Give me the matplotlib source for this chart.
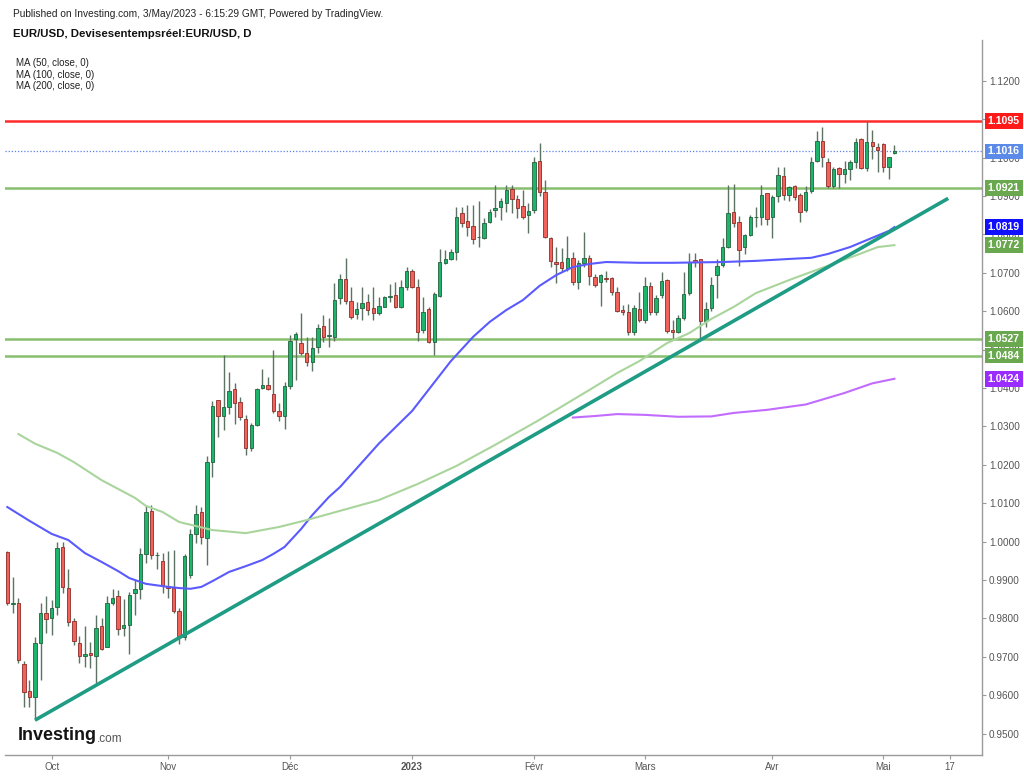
import numpy as np
import pandas as pd
import matplotlib
matplotlib.use('Agg')
import matplotlib.pyplot as plt
import matplotlib.transforms as mtransforms

plt.rcParams['font.family'] = ['Liberation Sans', 'DejaVu Sans']

# daily EUR/USD bars
dates = pd.bdate_range('2022-09-21', '2023-05-03')

opens = [0.9974, 0.9838, 0.9839, 0.9681, 0.9612, 0.9594, 0.9735, 0.9815, 0.9800, 0.9829,
         0.9985, 0.9879, 0.9792, 0.9737, 0.9703, 0.9711, 0.9703, 0.9780, 0.9726, 0.9839,
         0.9858, 0.9774, 0.9784, 0.9867, 0.9877, 0.9967, 1.0080, 0.9965, 0.9950, 0.9884,
         0.9878, 0.9818, 0.9752, 0.9913, 1.0021, 1.0076, 1.0009, 1.0208, 1.0369, 1.0327,
         1.0350, 1.0397, 1.0363, 1.0318, 1.0243, 1.0304, 1.0399, 1.0408, 1.0384, 1.0340,
         1.0328, 1.0405, 1.0528, 1.0518, 1.0492, 1.0468, 1.0508, 1.0561, 1.0535, 1.0534,
         1.0634, 1.0683, 1.0627, 1.0592, 1.0608, 1.0625, 1.0608, 1.0596, 1.0612, 1.0637,
         1.0642, 1.0610, 1.0662, 1.0705, 1.0664, 1.0551, 1.0605, 1.0521, 1.0640, 1.0726,
         1.0735, 1.0755, 1.0855, 1.0836, 1.0822, 1.0792, 1.0791, 1.0833, 1.0864, 1.0872,
         1.0883, 1.0917, 1.0892, 1.0875, 1.0851, 1.0864, 1.0991, 1.0911, 1.0790, 1.0729,
         1.0727, 1.0712, 1.0739, 1.0677, 1.0725, 1.0739, 1.0690, 1.0675, 1.0687, 1.0687,
         1.0649, 1.0603, 1.0599, 1.0545, 1.0606, 1.0577, 1.0666, 1.0599, 1.0642, 1.0681,
         1.0551, 1.0547, 1.0582, 1.0647, 1.0733, 1.0735, 1.0575, 1.0608, 1.0694, 1.0720,
         1.0768, 1.0857, 1.0831, 1.0768, 1.0798, 1.0844, 1.0844, 1.0907, 1.0846, 1.0900,
         1.0952, 1.0903, 1.0925, 1.0903, 1.0864, 1.0913, 1.0992, 1.1044, 1.0989, 1.0926,
         1.0972, 1.0957, 1.0970, 1.0989, 1.1048, 1.0972, 1.1041, 1.1028, 1.1035, 1.0975,
         1.1013]
highs = [0.9976, 0.9909, 0.9852, 0.9690, 0.9640, 0.9752, 0.9839, 0.9857, 0.9848, 1.0000,
         1.0000, 0.9928, 0.9800, 0.9755, 0.9779, 0.9739, 0.9809, 0.9800, 0.9857, 0.9876,
         0.9874, 0.9850, 0.9870, 0.9900, 0.9982, 1.0095, 1.0095, 0.9974, 0.9969, 0.9976,
         0.9978, 0.9826, 0.9967, 1.0032, 1.0094, 1.0091, 1.0223, 1.0366, 1.0369, 1.0486,
         1.0442, 1.0412, 1.0377, 1.0330, 1.0310, 1.0399, 1.0449, 1.0429, 1.0499, 1.0360,
         1.0415, 1.0538, 1.0545, 1.0596, 1.0534, 1.0534, 1.0567, 1.0590, 1.0581, 1.0674,
         1.0697, 1.0738, 1.0664, 1.0625, 1.0662, 1.0645, 1.0662, 1.0636, 1.0640, 1.0671,
         1.0677, 1.0681, 1.0714, 1.0709, 1.0683, 1.0636, 1.0612, 1.0650, 1.0761, 1.0759,
         1.0761, 1.0871, 1.0871, 1.0877, 1.0877, 1.0888, 1.0842, 1.0865, 1.0929, 1.0894,
         1.0929, 1.0929, 1.0903, 1.0916, 1.0881, 1.1002, 1.1037, 1.0942, 1.0794, 1.0768,
         1.0764, 1.0797, 1.0755, 1.0733, 1.0807, 1.0746, 1.0696, 1.0697, 1.0705, 1.0690,
         1.0664, 1.0616, 1.0618, 1.0616, 1.0649, 1.0690, 1.0677, 1.0642, 1.0703, 1.0683,
         1.0577, 1.0590, 1.0703, 1.0751, 1.0751, 1.0737, 1.0625, 1.0690, 1.0737, 1.0790,
         1.0929, 1.0931, 1.0848, 1.0801, 1.0851, 1.0872, 1.0929, 1.0908, 1.0903, 1.0976,
         1.0976, 1.0926, 1.0929, 1.0907, 1.0926, 1.1002, 1.1070, 1.1079, 1.0998, 1.0975,
         1.0976, 1.0992, 1.0994, 1.1050, 1.1050, 1.1096, 1.1072, 1.1037, 1.1037, 1.1002,
         1.1033]
lows = [0.9835, 0.9813, 0.9685, 0.9570, 0.9570, 0.9535, 0.9640, 0.9761, 0.9757, 0.9809,
        0.9867, 0.9779, 0.9731, 0.9685, 0.9674, 0.9670, 0.9633, 0.9718, 0.9726, 0.9835,
        0.9757, 0.9755, 0.9707, 0.9809, 0.9850, 0.9945, 0.9954, 0.9928, 0.9867, 0.9852,
        0.9813, 0.9733, 0.9745, 0.9905, 0.9996, 0.9994, 0.9939, 1.0169, 1.0273, 1.0291,
        1.0332, 1.0306, 1.0317, 1.0226, 1.0235, 1.0301, 1.0397, 1.0395, 1.0335, 1.0315,
        1.0292, 1.0397, 1.0421, 1.0485, 1.0457, 1.0445, 1.0492, 1.0521, 1.0508, 1.0522,
        1.0620, 1.0620, 1.0579, 1.0579, 1.0577, 1.0590, 1.0577, 1.0590, 1.0610, 1.0625,
        1.0607, 1.0608, 1.0655, 1.0660, 1.0523, 1.0542, 1.0516, 1.0486, 1.0638, 1.0723,
        1.0732, 1.0733, 1.0820, 1.0796, 1.0775, 1.0768, 1.0787, 1.0829, 1.0846, 1.0838,
        1.0857, 1.0855, 1.0842, 1.0840, 1.0803, 1.0855, 1.0900, 1.0790, 1.0716, 1.0673,
        1.0705, 1.0705, 1.0668, 1.0658, 1.0716, 1.0668, 1.0664, 1.0614, 1.0677, 1.0642,
        1.0598, 1.0590, 1.0538, 1.0538, 1.0573, 1.0568, 1.0590, 1.0590, 1.0634, 1.0543,
        1.0529, 1.0542, 1.0577, 1.0642, 1.0716, 1.0525, 1.0560, 1.0600, 1.0634, 1.0716,
        1.0764, 1.0820, 1.0718, 1.0749, 1.0796, 1.0820, 1.0824, 1.0824, 1.0790, 1.0885,
        1.0890, 1.0888, 1.0890, 1.0833, 1.0859, 1.0908, 1.0989, 1.0975, 1.0920, 1.0920,
        1.0920, 1.0935, 1.0942, 1.0972, 1.0970, 1.0965, 1.0996, 1.0963, 1.0963, 1.0943,
        1.1009]
closes = [0.9839, 0.9838, 0.9692, 0.9607, 0.9594, 0.9735, 0.9815, 0.9798, 0.9826, 0.9984,
          0.9883, 0.9790, 0.9741, 0.9702, 0.9706, 0.9705, 0.9776, 0.9721, 0.9839, 0.9854,
          0.9772, 0.9784, 0.9861, 0.9877, 0.9967, 1.0078, 0.9965, 0.9966, 0.9884, 0.9878,
          0.9818, 0.9752, 0.9963, 1.0019, 1.0071, 1.0013, 1.0208, 1.0353, 1.0327, 1.0350,
          1.0393, 1.0362, 1.0324, 1.0243, 1.0303, 1.0397, 1.0408, 1.0397, 1.0340, 1.0327,
          1.0405, 1.0523, 1.0540, 1.0492, 1.0468, 1.0505, 1.0555, 1.0532, 1.0538, 1.0629,
          1.0683, 1.0627, 1.0584, 1.0605, 1.0621, 1.0603, 1.0595, 1.0614, 1.0636, 1.0639,
          1.0610, 1.0662, 1.0705, 1.0664, 1.0547, 1.0599, 1.0521, 1.0645, 1.0727, 1.0735,
          1.0755, 1.0846, 1.0829, 1.0818, 1.0787, 1.0793, 1.0829, 1.0857, 1.0870, 1.0887,
          1.0916, 1.0891, 1.0868, 1.0844, 1.0861, 1.0989, 1.0911, 1.0794, 1.0731, 1.0723,
          1.0712, 1.0738, 1.0677, 1.0725, 1.0739, 1.0692, 1.0668, 1.0694, 1.0683, 1.0649,
          1.0601, 1.0597, 1.0547, 1.0608, 1.0577, 1.0666, 1.0597, 1.0634, 1.0679, 1.0548,
          1.0545, 1.0582, 1.0644, 1.0729, 1.0729, 1.0575, 1.0605, 1.0668, 1.0718, 1.0768,
          1.0855, 1.0829, 1.0759, 1.0798, 1.0844, 1.0845, 1.0903, 1.0839, 1.0897, 1.0955,
          1.0903, 1.0923, 1.0897, 1.0859, 1.0911, 1.0989, 1.1044, 1.1001, 1.0926, 1.0970,
          1.0957, 1.0970, 1.0989, 1.1041, 1.0972, 1.1040, 1.1030, 1.1020, 1.0976, 1.1001,
          1.1016]

# moving averages (bar number, value)
ma50_bar = [0, 4, 8, 11, 14, 17, 20, 22, 25, 29, 31, 33, 35, 37, 40, 43, 46, 48, 50, 53,
            55, 58, 60, 67, 73, 80, 84, 87, 90, 93, 96, 99, 102, 105, 108, 114, 120, 129,
            135, 141, 145, 148, 152, 156, 159, 160]
ma50_val = [1.0090, 1.0054, 1.0020, 1.0004, 0.9970, 0.9947, 0.9923, 0.9905, 0.9890, 0.9882,
            0.9879, 0.9877, 0.9882, 0.9897, 0.9921, 0.9936, 0.9952, 0.9968, 0.9986, 1.0033,
            1.0069, 1.0116, 1.0142, 1.0255, 1.0340, 1.0470, 1.0533, 1.0572, 1.0603, 1.0629,
            1.0666, 1.0694, 1.0715, 1.0723, 1.0728, 1.0726, 1.0726, 1.0728, 1.0731, 1.0736,
            1.0739, 1.0749, 1.0767, 1.0791, 1.0809, 1.0819]
ma100_bar = [2, 5, 9, 12, 17, 20, 23, 25, 28, 31, 37, 43, 49, 54, 60, 67, 74, 81, 88, 95,
             99, 105, 110, 114, 119, 123, 127, 131, 135, 141, 147, 153, 157, 160]
ma100_val = [1.0280, 1.0255, 1.0231, 1.0207, 1.0160, 1.0137, 1.0114, 1.0093, 1.0077, 1.0051,
             1.0030, 1.0022, 1.0038, 1.0056, 1.0080, 1.0108, 1.0150, 1.0197, 1.0252, 1.0309,
             1.0343, 1.0395, 1.0439, 1.0470, 1.0517, 1.0543, 1.0580, 1.0611, 1.0647, 1.0681,
             1.0713, 1.0745, 1.0767, 1.0772]
ma200_bar = [102, 106, 110, 115, 121, 127, 131, 137, 144, 151, 156, 160]
ma200_val = [1.0323, 1.0327, 1.0332, 1.0330, 1.0325, 1.0326, 1.0335, 1.0343, 1.0357, 1.0387,
             1.0412, 1.0424]

# drawn levels and trend line
resistance = 1.1095
levels = [1.0921, 1.0527, 1.0484]
trend_dates = ['2022-09-28', '2023-03-15']
trend_prices = [0.9535, 1.0525]
trend_end = '2023-05-16'

month_ticks = ['2022-10-03', '2022-11-01', '2022-12-01', '2023-01-02', '2023-02-01',
               '2023-03-01', '2023-04-03', '2023-05-01', '2023-05-17']
month_labels = ['Oct', 'Nov', 'Déc', '2023', 'Févr', 'Mars', 'Avr', 'Mai', '17']

o = np.array(opens)
h = np.array(highs)
l = np.array(lows)
c = np.array(closes)
x = np.arange(len(dates))

all_days = pd.bdate_range(dates[0], '2023-06-30')
def bar_of(d):
    return all_days.get_loc(pd.Timestamp(d))

fig = plt.figure(figsize=(10.24, 7.76), dpi=100)
ax = fig.add_axes([0.0047, 0.0271, 0.9543, 0.9214])

up = c >= o
ax.vlines(x, l, h, color='#5c7262', lw=1, zorder=3)
body_lo = np.minimum(o, c)
body_h = np.maximum(np.abs(c - o), 0.00012)
ax.bar(x, body_h, bottom=body_lo, width=0.62,
       color=np.where(up, '#1db56b', '#f0625a'),
       edgecolor=np.where(up, '#22603d', '#8c2c27'), linewidth=0.6, zorder=4)

ax.plot(ma50_bar, ma50_val, color='#5a5aff', lw=1.5, zorder=5)
ax.plot(ma100_bar, ma100_val, color='#a9d59c', lw=1.5, zorder=5)
ax.plot(ma200_bar, ma200_val, color='#c26bff', lw=1.5, zorder=5)

ax.axhline(resistance, color='#ff2b2b', lw=1.8, zorder=2)
for lv in levels:
    ax.axhline(lv, color='#88bf6e', lw=1.8, zorder=2)
ax.axhline(c[-1], color='#5b82e6', lw=0.9, ls=(0, (1, 1.5)), zorder=2)

tb = [bar_of(d) for d in trend_dates]
slope = (trend_prices[1] - trend_prices[0]) / (tb[1] - tb[0])
tx = np.array([tb[0], bar_of(trend_end) + 0.7])
ax.plot(tx, trend_prices[0] + slope * (tx - tb[0]), color='#1f9c84', lw=2.6,
        solid_capstyle='butt', zorder=6)

ax.set_xlim(-0.45, 175.8)
ax.set_ylim(0.94443, 1.13063)

for s in ['left', 'top']:
    ax.spines[s].set_visible(False)
for s in ['right', 'bottom']:
    ax.spines[s].set_color('#9a9a9a')
    ax.spines[s].set_linewidth(1.0)

ax.yaxis.tick_right()
ax.set_yticks(np.arange(0.95, 1.1201, 0.01))
ax.set_yticklabels(['%.4f' % v for v in np.arange(0.95, 1.1201, 0.01)])
ax.tick_params(axis='y', colors='#9a9a9a', labelcolor='#555555', labelsize=7.2,
               length=3, width=0.8, pad=2)
ax.set_xticks([bar_of(d) for d in month_ticks])
ax.set_xticklabels(month_labels)
ax.tick_params(axis='x', colors='#9a9a9a', labelcolor='#555555', labelsize=7,
               length=3, width=0.8, pad=2)
ax.get_xticklabels()[3].set_fontweight('bold')

trans = mtransforms.blended_transform_factory(ax.transAxes, ax.transData)
tags = [(resistance, '#ff1a1a'), (c[-1], '#5b8ae8'), (levels[0], '#6aa84f'),
        (ma50_val[-1], '#1010ff'), (ma100_val[-1], '#6aa84f'), (levels[1], '#6aa84f'),
        (levels[2], '#6aa84f'), (ma200_val[-1], '#9a2cff')]
for val, col in tags:
    ax.annotate('%.4f' % val, xy=(1, val), xycoords=trans, xytext=(4.2, 0),
                textcoords='offset points', ha='left', va='center', color='white',
                fontsize=7.6, fontweight='bold', annotation_clip=False, zorder=10,
                bbox=dict(boxstyle='square,pad=0.26', fc=col, ec='none'))

fig.text(13 / 1024, 1 - 14 / 776,
         'Published on Investing.com, 3/May/2023 - 6:15:29 GMT, Powered by TradingView.',
         fontsize=7.3, color='#222222', va='center')
fig.text(13 / 1024, 1 - 34 / 776, 'EUR/USD, Devisesentempsréel:EUR/USD, D',
         fontsize=8.2, fontweight='bold', color='#111111', va='center')
for i, n in enumerate([50, 100, 200]):
    fig.text(16 / 1024, 1 - (63 + 11.5 * i) / 776, 'MA (%d, close, 0)' % n,
             fontsize=7, color='#222222', va='center')

fig.text(18 / 1024, 1 - 736 / 776, 'Investing', fontsize=13, fontweight='bold',
         color='#151515', va='center')
fig.text(97 / 1024, 1 - 739 / 776, '.com', fontsize=8.5, color='#555555', va='center')

fig.savefig('out.png', dpi=100, facecolor='white')
